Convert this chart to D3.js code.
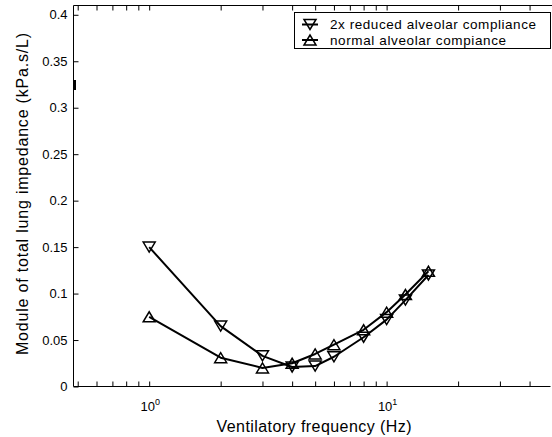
<!DOCTYPE html>
<html>
<head>
    <meta charset="utf-8">
    <title>Lung impedance vs ventilatory frequency</title>
    <script src="https://d3js.org/d3.v7.min.js"></script>
    <style>
        body { margin: 0; background: #fff; }
        svg { display: block; font-family: "Liberation Sans", Arial, sans-serif; }
    </style>
</head>
<body>
    <div id="chart"></div>

    <script>
        // values
        const freqs = [1, 2, 3, 4, 5, 6, 8, 10, 12, 15];
        const reduced = [0.150, 0.065, 0.033, 0.021, 0.022, 0.032, 0.053, 0.072, 0.093, 0.120];
        const normal = [0.075, 0.031, 0.020, 0.025, 0.035, 0.045, 0.061, 0.080, 0.099, 0.124];
        const seriesNames = ["2x reduced alveolar compliance", "normal alveolar compiance"];

        const yTicks = [0, 0.05, 0.1, 0.15, 0.2, 0.25, 0.3, 0.35, 0.4];
        const yTickLabels = ["0", "0.05", "0.1", "0.15", "0.2", "0.25", "0.3", "0.35", "0.4"];
        const xMajor = [1, 10];
        const xMajorLabels = [["10", "0"], ["10", "1"]];
        const xMinor = [0.5, 0.6, 0.7, 0.8, 0.9, 2, 3, 4, 5, 6, 7, 8, 9, 20, 30, 40];

        const width = 552, height = 437;
        const plot = {left: 73.5, right: 550.5, top: 5.5, bottom: 386.5};

        const svg = d3.select("#chart").append("svg")
            .attr("width", width)
            .attr("height", height);

        const x = d3.scaleLog()
            .domain([0.48, 49])
            .range([plot.left, plot.right]);

        const y = d3.scaleLinear()
            .domain([0, 0.41])
            .range([plot.bottom, plot.top]);

        // frame (no right edge visible in the original)
        svg.append("path")
            .attr("d", `M${plot.right + 2},${plot.top}H${plot.left}V${plot.bottom}H${plot.right}`)
            .attr("fill", "none")
            .attr("stroke", "#000")
            .attr("stroke-width", 1);

        // small dark mark on the y axis
        svg.append("line")
            .attr("x1", plot.left + 1.5).attr("x2", plot.left + 1.5)
            .attr("y1", 80).attr("y2", 90)
            .attr("stroke", "#000")
            .attr("stroke-width", 2);

        // y axis, ticks pointing inward
        const yAxis = svg.append("g")
            .attr("transform", `translate(${plot.left},0)`)
            .call(d3.axisLeft(y)
                .tickValues(yTicks)
                .tickFormat((d, i) => yTickLabels[i])
                .tickSizeInner(-5)
                .tickSizeOuter(0)
                .tickPadding(6));
        yAxis.select(".domain").remove();
        yAxis.selectAll("text")
            .attr("fill", "#000")
            .style("font-size", "13px")
            .style("font-family", "'Liberation Sans', Arial, sans-serif");

        // bottom and top log axes
        const xTicks = xMinor.concat(xMajor);
        const xBottom = svg.append("g")
            .attr("transform", `translate(0,${plot.bottom})`)
            .call(d3.axisBottom(x).tickValues(xTicks).tickFormat("").tickSizeInner(-5).tickSizeOuter(0));
        xBottom.select(".domain").remove();

        const xTop = svg.append("g")
            .attr("transform", `translate(0,${plot.top})`)
            .call(d3.axisTop(x).tickValues(xTicks).tickFormat("").tickSizeInner(-5).tickSizeOuter(0));
        xTop.select(".domain").remove();

        const xLabels = svg.append("g")
            .selectAll("text")
            .data(xMajor)
            .enter().append("text")
            .attr("x", d => x(d) + 1)
            .attr("y", 411)
            .attr("text-anchor", "middle")
            .style("font-size", "13px");
        xLabels.append("tspan").text((d, i) => xMajorLabels[i][0]);
        xLabels.append("tspan")
            .attr("dy", -6)
            .style("font-size", "9px")
            .text((d, i) => xMajorLabels[i][1]);

        // axis titles
        svg.append("text")
            .attr("x", 314)
            .attr("y", 432)
            .attr("text-anchor", "middle")
            .attr("textLength", 195)
            .attr("lengthAdjust", "spacing")
            .style("font-size", "16px")
            .text("Ventilatory frequency (Hz)");

        svg.append("text")
            .attr("transform", "translate(28,194) rotate(-90)")
            .attr("text-anchor", "middle")
            .attr("textLength", 322)
            .attr("lengthAdjust", "spacing")
            .style("font-size", "16px")
            .text("Module of total lung impedance (kPa.s/L)");

        // triangle marker, centred on its bounding box
        function triangle(down) {
            const w = 6, h = 5;
            return down
                ? `M${-w},${-h}L${w},${-h}L0,${h}Z`
                : `M${-w},${h}L${w},${h}L0,${-h}Z`;
        }

        const series = [
            {name: seriesNames[0], values: reduced, down: true},
            {name: seriesNames[1], values: normal, down: false}
        ];

        const line = d3.line()
            .x((d, i) => x(freqs[i]))
            .y(d => y(d));

        series.forEach(s => {
            svg.append("path")
                .datum(s.values)
                .attr("d", line)
                .attr("fill", "none")
                .attr("stroke", "#000")
                .attr("stroke-width", 2)
                .attr("stroke-linejoin", "round");

            svg.selectAll(null)
                .data(s.values)
                .enter().append("path")
                .attr("transform", (d, i) => `translate(${x(freqs[i])},${y(d)})`)
                .attr("d", triangle(s.down))
                .attr("fill", "none")
                .attr("stroke", "#000")
                .attr("stroke-width", 1.5);
        });

        // legend box
        const legend = svg.append("g");
        legend.append("rect")
            .attr("x", 294.5)
            .attr("y", 12.5)
            .attr("width", 256)
            .attr("height", 36)
            .attr("fill", "#fff")
            .attr("stroke", "#000");

        const rowY = [24.5, 40];
        const rowLen = [206, 176];
        series.forEach((s, i) => {
            const g = legend.append("g").attr("transform", `translate(0,${rowY[i]})`);
            g.append("line")
                .attr("x1", 302).attr("x2", 318)
                .attr("stroke", "#000")
                .attr("stroke-width", 2);
            g.append("path")
                .attr("transform", "translate(310,0)")
                .attr("d", triangle(s.down))
                .attr("fill", "none")
                .attr("stroke", "#000")
                .attr("stroke-width", 1.5);
            g.append("text")
                .attr("x", 330)
                .attr("y", 4.5)
                .attr("textLength", rowLen[i])
                .attr("lengthAdjust", "spacing")
                .style("font-size", "13.5px")
                .text(s.name);
        });
    </script>
</body>
</html>
